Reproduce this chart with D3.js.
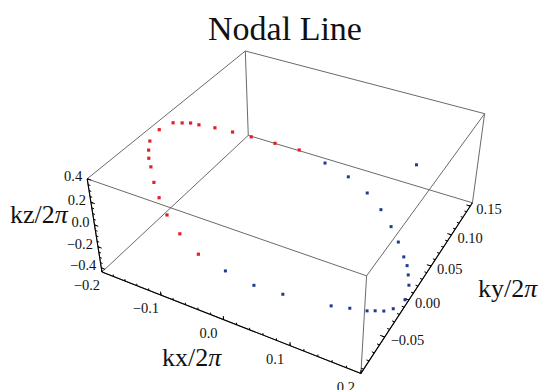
<!DOCTYPE html>
<html>
<head>
<meta charset="utf-8">
<script src="https://cdn.jsdelivr.net/npm/d3@7"></script>
<style>
  body { margin: 0; background: #fff; }
  svg { display: block; }
</style>
</head>
<body>
<div id="chart"></div>
<script>
// nodal line points, in units of 2pi
const redKx = [-0.037, -0.069, -0.100, -0.124, -0.146, -0.165, -0.175, -0.183, -0.192, -0.197, -0.193, -0.184, -0.175, -0.164, -0.145, -0.125, -0.101, -0.072, -0.037];
const redKy = [0.080, 0.070, 0.060, 0.052, 0.044, 0.036, 0.032, 0.026, 0.020, 0.003, -0.015, -0.025, -0.033, -0.040, -0.053, -0.064, -0.075, -0.084, -0.091];
const redKz = [0.049, 0.107, 0.164, 0.207, 0.248, 0.282, 0.301, 0.317, 0.332, 0.342, 0.334, 0.318, 0.302, 0.281, 0.247, 0.209, 0.166, 0.111, 0.047];

const blueKx = [0.002, 0.040, 0.074, 0.129, 0.149, 0.168, 0.176, 0.185, 0.193, 0.199, 0.193, 0.185, 0.177, 0.167, 0.150, 0.130, 0.105, 0.076, 0.041, 0.003, 0.106];
const blueKy = [-0.090, -0.086, -0.077, -0.059, -0.050, -0.042, -0.037, -0.032, -0.024, -0.008, 0.009, 0.019, 0.028, 0.035, 0.047, 0.059, 0.071, 0.080, 0.085, 0.084, 0.153];
const blueKz = [-0.023, -0.093, -0.156, -0.257, -0.294, -0.329, -0.344, -0.360, -0.375, -0.386, -0.375, -0.360, -0.346, -0.328, -0.295, -0.259, -0.214, -0.159, -0.095, -0.026, -0.215];

// axis ranges and tick labels
const kxRange = [-0.2, 0.2];
const kyRange = [-0.095, 0.156];
const kzRange = [-0.44, 0.40];
const kxTicks = [-0.2, -0.1, 0.0, 0.1, 0.2];
const kyTicks = [-0.05, 0.00, 0.05, 0.10, 0.15];
const kzTicks = [-0.4, -0.2, 0.0, 0.2, 0.4];

const width = 542;
const height = 390;

// box ratios 1 : 1 : 0.4, seen from the usual viewpoint {1.3, -2.4, 2}
const xScale = d3.scaleLinear().domain(kxRange).range([-0.5, 0.5]);
const yScale = d3.scaleLinear().domain(kyRange).range([-0.5, 0.5]);
const zScale = d3.scaleLinear().domain(kzRange).range([-0.2, 0.2]);

const viewPoint = [1.3, -2.4, 2];
const center = [295.8, 191.8];
const zoom = 955;

const dot = (a, b) => a[0] * b[0] + a[1] * b[1] + a[2] * b[2];
const vLen = Math.sqrt(dot(viewPoint, viewPoint));
const fwd = viewPoint.map(v => -v / vLen);
const rLen = Math.hypot(fwd[0], fwd[1]);
const right = [fwd[1] / rLen, -fwd[0] / rLen, 0];
const up = [
  right[1] * fwd[2] - right[2] * fwd[1],
  right[2] * fwd[0] - right[0] * fwd[2],
  right[0] * fwd[1] - right[1] * fwd[0]
];

// box coords -> screen
function project(p) {
  const rel = [p[0] - viewPoint[0], p[1] - viewPoint[1], p[2] - viewPoint[2]];
  const depth = dot(rel, fwd);
  return [center[0] + zoom * dot(rel, right) / depth, center[1] - zoom * dot(rel, up) / depth];
}

// data coords -> screen
function toScreen(kx, ky, kz) {
  return project([xScale(kx), yScale(ky), zScale(kz)]);
}

const svg = d3.select('#chart')
  .append('svg')
  .attr('width', width)
  .attr('height', height)
  .style('font-family', '"Liberation Serif", "Times New Roman", serif');

// box edges
const xs = kxRange, ys = kyRange, zs = kzRange;
const edges = [];
for (const y of ys) for (const z of zs) edges.push([[xs[0], y, z], [xs[1], y, z]]);
for (const x of xs) for (const z of zs) edges.push([[x, ys[0], z], [x, ys[1], z]]);
for (const x of xs) for (const y of ys) edges.push([[x, y, zs[0]], [x, y, zs[1]]]);

svg.append('g')
  .attr('class', 'box')
  .selectAll('line')
  .data(edges)
  .enter().append('line')
  .attr('x1', d => toScreen(...d[0])[0])
  .attr('y1', d => toScreen(...d[0])[1])
  .attr('x2', d => toScreen(...d[1])[0])
  .attr('y2', d => toScreen(...d[1])[1])
  .attr('stroke', '#6a6a6a')
  .attr('stroke-width', 1);

// the three axes: along edge, tick direction in box units, label offset
const axes = [
  {
    name: 'kx', ticks: kxTicks, minor: d3.range(-0.2, 0.2001, 0.02), fmt: d3.format('.1f'),
    pos: v => [v, kyRange[0], kzRange[0]], from: [kxRange[0], kyRange[0], kzRange[0]], to: [kxRange[1], kyRange[0], kzRange[0]],
    tickDir: [0, 0, 1], dx: -15, dy: 15, anchor: 'middle'
  },
  {
    name: 'ky', ticks: kyTicks, minor: d3.range(-0.09, 0.1501, 0.01), fmt: d3.format('.2f'),
    pos: v => [kxRange[1], v, kzRange[0]], from: [kxRange[1], kyRange[0], kzRange[0]], to: [kxRange[1], kyRange[1], kzRange[0]],
    tickDir: [-1, 0, 0], dx: 6, dy: 5, anchor: 'start'
  },
  {
    name: 'kz', ticks: kzTicks, minor: d3.range(-0.4, 0.4001, 0.05), fmt: d3.format('.1f'),
    pos: v => [kxRange[0], kyRange[0], v], from: [kxRange[0], kyRange[0], kzRange[0]], to: [kxRange[0], kyRange[0], kzRange[1]],
    tickDir: [1, 0, 0], dx: -5, dy: -1, anchor: 'end'
  }
];

axes.forEach(ax => {
  const g = svg.append('g').attr('class', 'axis-' + ax.name);
  const a = toScreen(...ax.from), b = toScreen(...ax.to);
  g.append('line')
    .attr('x1', a[0]).attr('y1', a[1]).attr('x2', b[0]).attr('y2', b[1])
    .attr('stroke', '#000').attr('stroke-width', 1.1);

  const tickLine = (v, len) => {
    const p = ax.pos(v);
    const s = toScreen(...p);
    const bp = [xScale(p[0]), yScale(p[1]), zScale(p[2])];
    const e = project([bp[0] + ax.tickDir[0] * len, bp[1] + ax.tickDir[1] * len, bp[2] + ax.tickDir[2] * len]);
    return [s, e];
  };

  g.selectAll('line.minor')
    .data(ax.minor)
    .enter().append('line')
    .attr('class', 'minor')
    .each(function (v) {
      const [s, e] = tickLine(v, 0.009);
      d3.select(this).attr('x1', s[0]).attr('y1', s[1]).attr('x2', e[0]).attr('y2', e[1]);
    })
    .attr('stroke', '#000').attr('stroke-width', 1);

  g.selectAll('line.major')
    .data(ax.ticks)
    .enter().append('line')
    .attr('class', 'major')
    .each(function (v) {
      const [s, e] = tickLine(v, 0.016);
      d3.select(this).attr('x1', s[0]).attr('y1', s[1]).attr('x2', e[0]).attr('y2', e[1]);
    })
    .attr('stroke', '#000').attr('stroke-width', 1);

  g.selectAll('text')
    .data(ax.ticks)
    .enter().append('text')
    .attr('x', v => toScreen(...ax.pos(v))[0] + ax.dx)
    .attr('y', v => toScreen(...ax.pos(v))[1] + ax.dy)
    .attr('text-anchor', ax.anchor)
    .attr('dominant-baseline', 'middle')
    .attr('font-size', '14.5px')
    .attr('fill', '#111')
    .text(v => ax.fmt(v).replace('-', '\u2212'));
});

// points
const redPts = redKx.map((x, i) => toScreen(x, redKy[i], redKz[i]));
const bluePts = blueKx.map((x, i) => toScreen(x, blueKy[i], blueKz[i]));

svg.append('g')
  .attr('class', 'red')
  .selectAll('rect')
  .data(redPts)
  .enter().append('rect')
  .attr('x', d => d[0] - 1.6)
  .attr('y', d => d[1] - 1.6)
  .attr('width', 3.2)
  .attr('height', 3.2)
  .attr('fill', '#e41f2b');

svg.append('g')
  .attr('class', 'blue')
  .selectAll('rect')
  .data(bluePts)
  .enter().append('rect')
  .attr('x', d => d[0] - 1.5)
  .attr('y', d => d[1] - 1.5)
  .attr('width', 3)
  .attr('height', 3)
  .attr('fill', '#1f3b8c');

// title and axis labels
svg.append('text')
  .attr('x', 285)
  .attr('y', 40)
  .attr('text-anchor', 'middle')
  .attr('font-size', '34px')
  .attr('fill', '#111')
  .text('Nodal Line');

const axisLabels = [
  { base: 'kz/2', x: 10, y: 223 },
  { base: 'kx/2', x: 162, y: 366 },
  { base: 'ky/2', x: 478, y: 297 }
];

axisLabels.forEach(l => {
  const t = svg.append('text')
    .attr('x', l.x)
    .attr('y', l.y)
    .attr('font-size', '26px')
    .attr('fill', '#111');
  t.append('tspan').text(l.base);
  t.append('tspan').attr('font-style', 'italic').text('\u03c0');
});
</script>
</body>
</html>
